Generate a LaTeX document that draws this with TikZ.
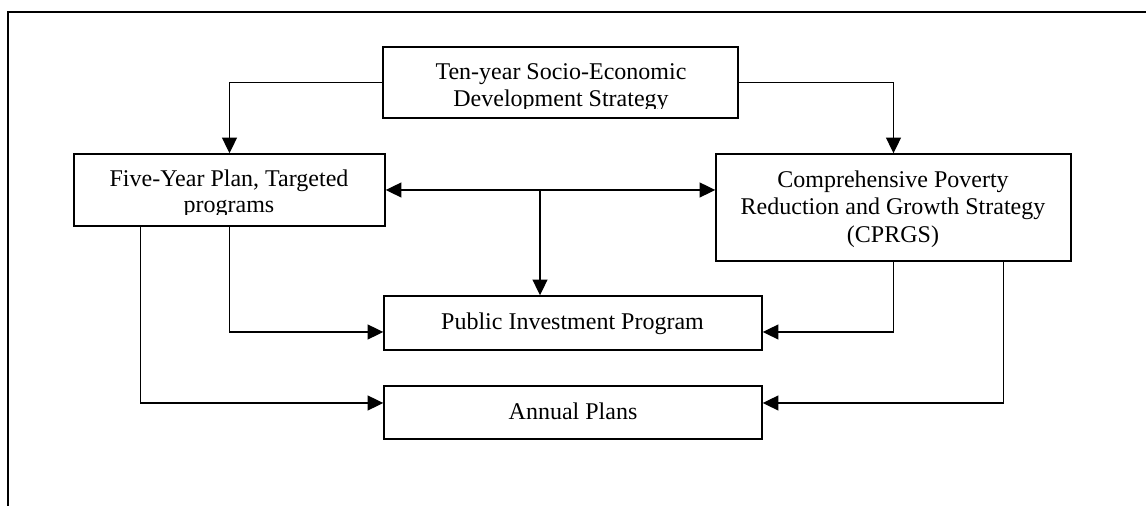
\documentclass[tikz,border=0pt]{standalone}
\usepackage{fontspec}
\setmainfont{Liberation Serif}
\usetikzlibrary{arrows.meta}
\begin{document}
\begin{tikzpicture}[x=0.5pt,y=-0.5pt,
  box/.style={draw,line width=0.7pt,inner sep=0pt},
  arr/.style={line width=0.7pt,-{Triangle[length=7.8pt,width=7.4pt]}},
  arrtwo/.style={line width=0.7pt,{Triangle[length=7.8pt,width=7.4pt]}-{Triangle[length=7.8pt,width=7.4pt]}},
  txt/.style={anchor=base,inner sep=0pt,font=\fontsize{12}{13.5}\selectfont}]
\useasboundingbox (0,0) rectangle (1146,506);
\draw[line width=0.8pt] (1146,12) -- (8,12) -- (8,506);
% boxes
\node[box,minimum width=177.5pt,minimum height=35.5pt] (ten) at (560.5,82.5) {};
\node[box,minimum width=155.5pt,minimum height=36pt] (five) at (229.5,190) {};
\node[box,minimum width=177.5pt,minimum height=53.5pt] (cprgs) at (893.5,207.5) {};
\node[box,minimum width=189pt,minimum height=27pt] (pip) at (573,323) {};
\node[box,minimum width=189pt,minimum height=26.5pt] (annual) at (573,412.5) {};
% texts
\begin{scope}
\clip (383,47) rectangle (738,108.5);
\node[txt] (tenA) at (561,80) {Ten-year Socio-Economic};
\node[txt] (tenB) at (561,107) {Development Strategy};
\end{scope}
\begin{scope}
\clip (74,154) rectangle (385,214.5);
\node[txt] (fiveA) at (229,187) {Five-Year Plan, Targeted};
\node[txt] (fiveB) at (229,213) {programs};
\end{scope}
\node[txt] (cA) at (893,187.5) {Comprehensive Poverty};
\node[txt] (cB) at (893,215) {Reduction and Growth Strategy};
\node[txt] (cC) at (893,242.5) {(CPRGS)};
\node[txt] (pipT) at (572.5,330) {Public Investment Program};
\node[txt] (annT) at (573,420) {Annual Plans};
% connector points
\coordinate (mid) at (540,190);
\path (pip.west) ++(0,9) coordinate (pipL);
\path (pip.east) ++(0,9) coordinate (pipR);
\path (annual.west) ++(0,-9.5) coordinate (annL);
\path (annual.east) ++(0,-9.5) coordinate (annR);
\path (five.south west) ++(67,0) coordinate (fiveOut);
\path (cprgs.south west) ++(288,0) coordinate (cprgsOut);
% connectors
\draw[arr] (ten.west) -| (five.north);
\draw[arr] (ten.east) -| (cprgs.north);
\draw[arrtwo] (five.east) -- (five.east -| cprgs.west);
\draw[arr] (mid) -- (mid |- pip.north);
\draw[arr] (five.south) |- (pipL);
\draw[arr] (cprgs.south) |- (pipR);
\draw[arr] (fiveOut) |- (annL);
\draw[arr] (cprgsOut) |- (annR);
\end{tikzpicture}
\end{document}
